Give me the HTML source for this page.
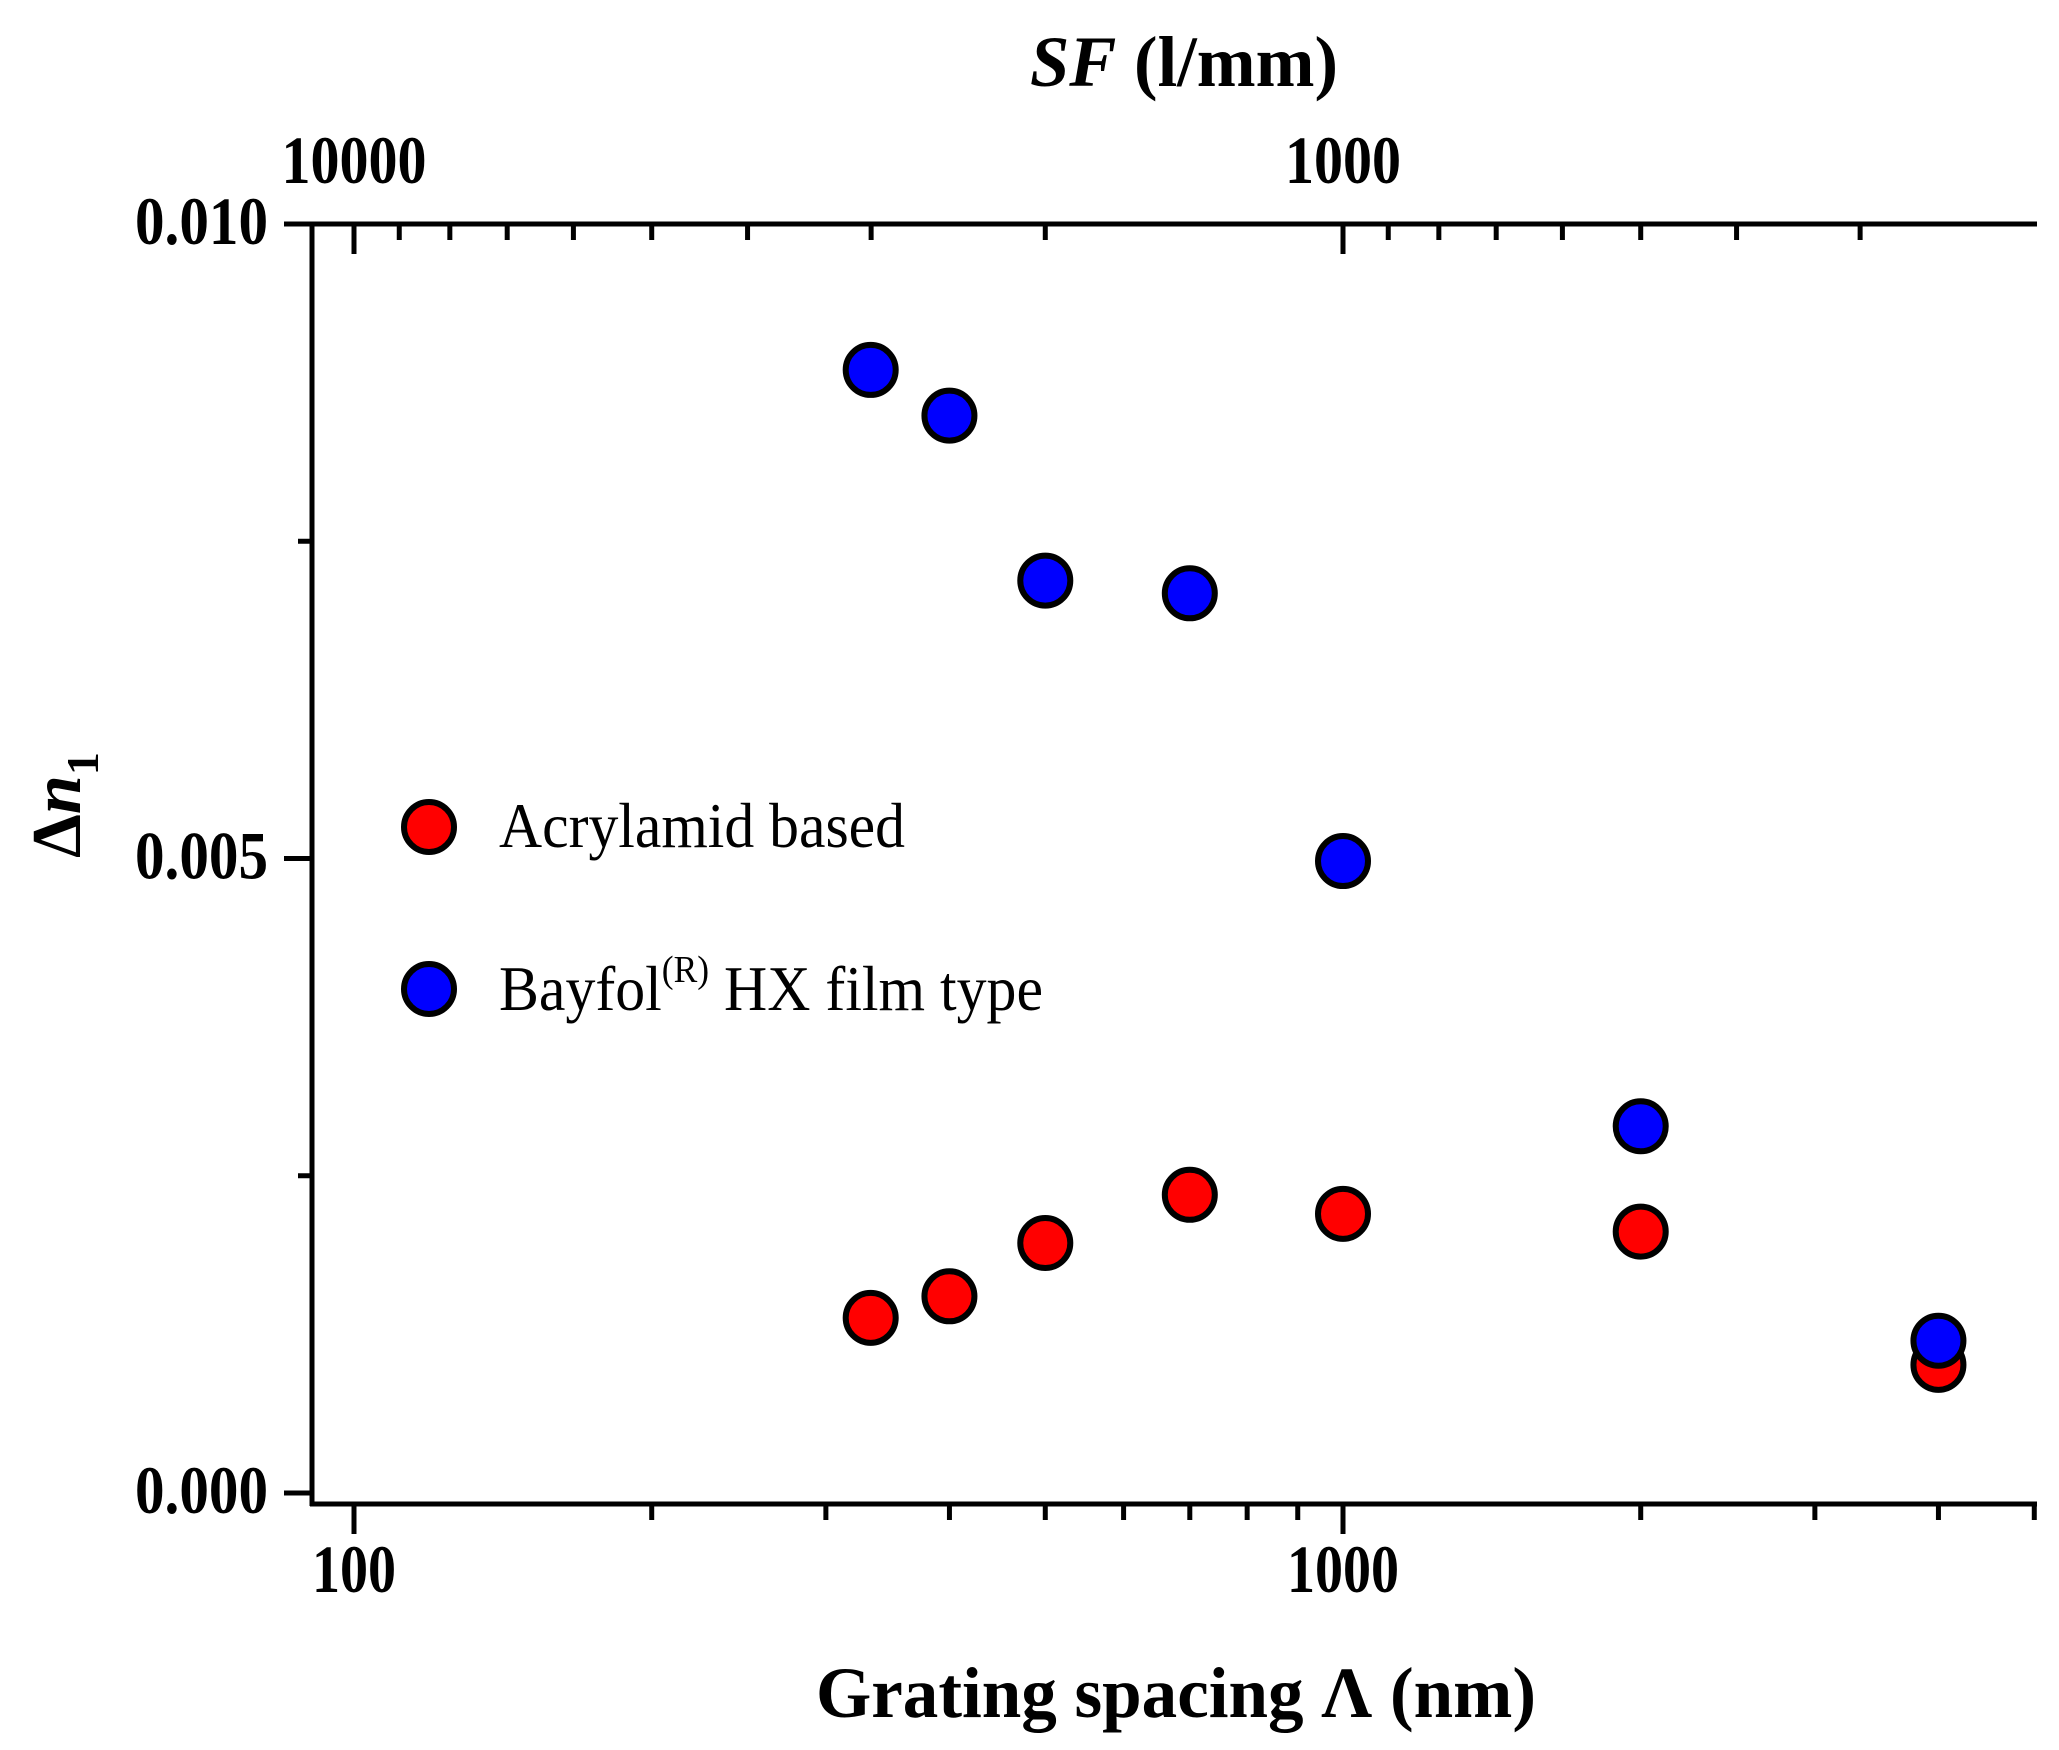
<!DOCTYPE html>
<html><head><meta charset="utf-8"><style>
html,body{margin:0;padding:0;background:#fff;}
svg{display:block;font-family:"Liberation Serif",serif;}
</style></head><body>
<svg id="chart" width="2059" height="1750" viewBox="0 0 2059 1750" xmlns="http://www.w3.org/2000/svg">
<rect x="0" y="0" width="2059" height="1750" fill="#fff"/>
<text x="1030" y="86" font-size="72" font-weight="bold" textLength="308" lengthAdjust="spacingAndGlyphs"><tspan font-style="italic">SF</tspan> (l/mm)</text>
<text x="816" y="1717" font-size="72" font-weight="bold" textLength="720" lengthAdjust="spacingAndGlyphs">Grating spacing Λ (nm)</text>
<text transform="translate(80,858) rotate(-90)" font-size="70" font-weight="bold">Δ<tspan font-style="italic">n</tspan><tspan font-size="46" dy="18">1</tspan></text>
<g id="axes"></g>
<g id="marks"></g>
<g>
<circle cx="429" cy="827" r="25" fill="#ff0000" stroke="#000" stroke-width="6"/>
<text x="499" y="847" font-size="64" textLength="406" lengthAdjust="spacingAndGlyphs">Acrylamid based</text>
<circle cx="429" cy="989" r="25" fill="#0000ff" stroke="#000" stroke-width="6"/>
<text x="499" y="1010" font-size="64" textLength="544" lengthAdjust="spacingAndGlyphs">Bayfol<tspan font-size="38" dy="-28">(R)</tspan><tspan dy="28"> HX film type</tspan></text>
</g>
</svg>
<script>
const spacingNm = [333, 400, 500, 700, 1000, 2000, 4000];
const acrylamidDn = [0.00138, 0.00155, 0.00197, 0.00235, 0.00220, 0.00206, 0.00101];
const bayfolDn = [0.00885, 0.00849, 0.00719, 0.00709, 0.00498, 0.00289, 0.00120];
const yTickValues = [0, 0.005, 0.010];
const yTickLabels = ["0.000", "0.005", "0.010"];
const yMinorValues = [0.0025, 0.0075];
const xTickValues = [100, 1000];
const xTickLabels = ["100", "1000"];
const sfTickValues = [10000, 1000];
const sfTickLabels = ["10000", "1000"];

const NS = "http://www.w3.org/2000/svg";
const L = 312, R = 2037, T = 224, B = 1504;
function xs(v){ return 354 + (Math.log10(v) - 2) * 989; }
function ys(v){ return 1493 - v / 0.01 * (1493 - 224); }
function sfX(sf){ return xs(1e6 / sf); }
function mk(tag, attrs, parent){
  const e = document.createElementNS(NS, tag);
  for (const k in attrs) e.setAttribute(k, attrs[k]);
  parent.appendChild(e); return e;
}
const ax = document.getElementById('axes');
const sw = 5;
let e;
e = mk('line', {x1:L, y1:T-2, x2:L, y2:B+2, stroke:'#000','stroke-width':sw}, ax);


e = mk('line', {x1:L-2, y1:B, x2:R, y2:B, stroke:'#000','stroke-width':sw}, ax);


e = mk('line', {x1:L-28, y1:T, x2:R, y2:T, stroke:'#000','stroke-width':sw}, ax);



yTickValues.forEach((v, i) => {
  const y = ys(v);
  let t = mk('line', {x1:L-28, y1:y, x2:L, y2:y, stroke:'#000','stroke-width':sw}, ax);
  
  
  let tx = mk('text', {x:268, y:y+20, 'font-size':68, 'font-weight':'bold', 'text-anchor':'end', textLength:133, lengthAdjust:'spacingAndGlyphs'}, ax);
  tx.textContent = yTickLabels[i];
  
  
});
yMinorValues.forEach(v => {
  const y = ys(v);
  let t = mk('line', {x1:L-14, y1:y, x2:L, y2:y, stroke:'#000','stroke-width':sw}, ax);
  
  
});
for (let dec = 10; dec <= 1000; dec *= 10) {
  for (let m = 1; m <= 9; m++) {
    const v = dec * m;
    const x = xs(v);
    if (x < L - 1 || x > R + 1) continue;
    const major = (m === 1);
    let t = mk('line', {x1:x, y1:B, x2:x, y2:B + (major ? 30 : 16), stroke:'#000','stroke-width':sw}, ax);
    
    
  }
}
xTickValues.forEach((v, i) => {
  let tx = mk('text', {x:xs(v), y:1592, 'font-size':68, 'font-weight':'bold', 'text-anchor':'middle', textLength: xTickLabels[i].length * 28, lengthAdjust:'spacingAndGlyphs'}, ax);
  tx.textContent = xTickLabels[i];
  
  
});
for (let dec = 100; dec <= 10000; dec *= 10) {
  for (let m = 1; m <= 9; m++) {
    const sf = dec * m;
    const x = sfX(sf);
    if (x < L + 5 || x > R - 3) continue;
    const major = (m === 1);
    let t = mk('line', {x1:x, y1:T, x2:x, y2:T + (major ? 30 : 16), stroke:'#000','stroke-width':sw}, ax);
    
    
  }
}
sfTickValues.forEach((v, i) => {
  let tx = mk('text', {x:sfX(v), y:183, 'font-size':68, 'font-weight':'bold', 'text-anchor':'middle', textLength: sfTickLabels[i].length * 29, lengthAdjust:'spacingAndGlyphs'}, ax);
  tx.textContent = sfTickLabels[i];
  
  
});
const mg = document.getElementById('marks');
spacingNm.forEach((s, i) => {
  let c = mk('circle', {cx:xs(s), cy:ys(acrylamidDn[i]), r:25, fill:'#ff0000', stroke:'#000','stroke-width':6}, mg);
  
  
});
spacingNm.forEach((s, i) => {
  let c = mk('circle', {cx:xs(s), cy:ys(bayfolDn[i]), r:25, fill:'#0000ff', stroke:'#000','stroke-width':6}, mg);
  
  
});
</script>
</body></html>
